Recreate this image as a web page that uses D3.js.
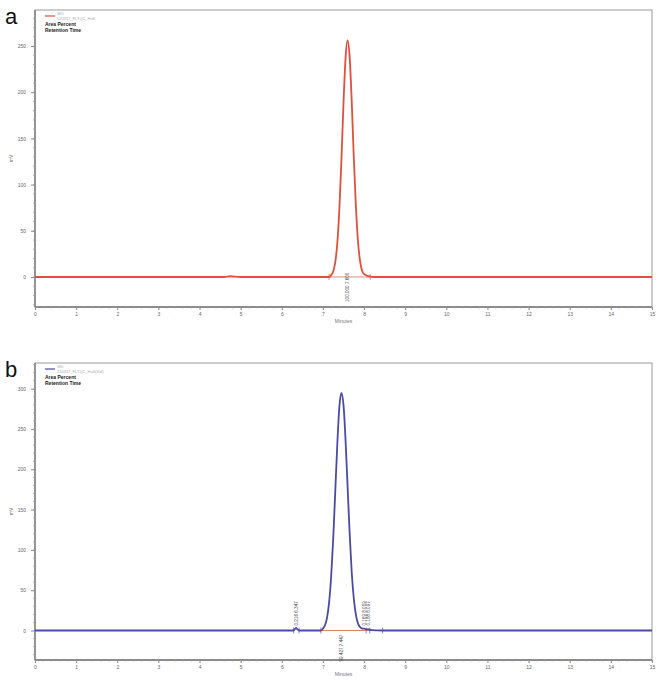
<!DOCTYPE html>
<html><head><meta charset="utf-8">
<script src="https://cdn.jsdelivr.net/npm/d3@7"></script>
<style>body{margin:0;background:#fff}svg{display:block}</style>
</head><body>
<svg id="c" width="663" height="683"></svg>
<script>
// ---- data ----
const xTicks = [0,1,2,3,4,5,6,7,8,9,10,11,12,13,14,15];
const yTicksA = [0,50,100,150,200,250];
const yTicksB = [0,50,100,150,200,250,300];
// panel a trace (minutes, mV)
const traceA = [[0,0],[4.6,0],[4.75,0.8],[4.85,0.3],[5.0,0],[7.15,0],[7.2,2],[7.25,6],[7.3,16],[7.35,37],[7.4,74],[7.45,127],[7.5,188],[7.55,237],[7.6,256],[7.65,238],[7.7,190],[7.75,130],[7.8,78],[7.85,40],[7.9,18],[7.95,7],[8.0,3],[8.1,1],[8.25,0],[15,0]];
// panel b trace
const traceB = [[0,0],[6.28,0],[6.32,2],[6.347,3.2],[6.37,2],[6.42,0],[6.95,0],[7.0,2.4],[7.05,6.5],[7.1,16],[7.15,35],[7.2,67],[7.25,114],[7.3,173],[7.35,232],[7.4,278],[7.447,295],[7.5,280],[7.55,236],[7.6,178],[7.65,120],[7.7,72],[7.75,40],[7.8,20],[7.85,9],[7.9,4.5],[7.95,2.5],[8.009,2.2],[8.05,1.4],[8.097,1.6],[8.15,0.7],[8.3,0.2],[8.45,0],[15,0]];
const peaksA = [{t:7.6, label:"100.000  7.600", off:25}];
const peaksB = [{t:6.347, label:"0.216  6.347", off:-5},{t:7.447, label:"99.427  7.447", off:31},{t:8.009, label:"0.169  8.009", off:-5},{t:8.097, label:"0.188  8.097", off:-5}];
const baselineA = [[7.15,0],[8.15,0]];
const baselineB = [[6.95,0],[8.45,0]];
const markersA = [7.15, 8.15];
const markersB = [6.29, 6.42, 6.95, 8.05, 8.14, 8.45];

const svg = d3.select("#c");
const font = "Liberation Sans, Arial, sans-serif";

function panel(o){
  const g = svg.append("g");
  const x = d3.scaleLinear().domain([0,15]).range([o.left,o.right]);
  const y = d3.scaleLinear().domain(o.ydom).range([o.bottom,o.top]);
  g.append("text").attr("x",5).attr("y",o.top+14).attr("font-family",font).attr("font-size",22).attr("fill","#111").text(o.letter);
  g.append("rect").attr("x",o.left).attr("y",o.top).attr("width",o.right-o.left).attr("height",o.bottom-o.top)
   .attr("fill","none").attr("stroke","#999").attr("stroke-width",1);
  g.append("line").attr("x1",o.left).attr("x2",o.left).attr("y1",o.top).attr("y2",o.bottom).attr("stroke","#777").attr("stroke-width",1.3);
  g.append("line").attr("x1",o.left).attr("x2",o.right).attr("y1",o.bottom).attr("y2",o.bottom).attr("stroke","#777").attr("stroke-width",1.3);
  const ya = d3.axisLeft(y).tickValues(o.yticks).tickSize(4).tickFormat(d3.format("d"));
  const yg = g.append("g").attr("transform",`translate(${o.left},0)`).call(ya);
  yg.select(".domain").remove();
  yg.selectAll("line").attr("stroke","#888");
  yg.selectAll("text").attr("font-size",5).attr("fill","#666").attr("font-family",font).attr("dx",-2);
  const yminor = d3.range(Math.ceil(o.ydom[0]/10)*10, o.ydom[1], 10);
  g.selectAll(".ym").data(yminor).enter().append("line").attr("x1",o.left-2).attr("x2",o.left)
   .attr("y1",d=>y(d)).attr("y2",d=>y(d)).attr("stroke","#999").attr("stroke-width",0.7);
  const xa = d3.axisBottom(x).tickValues(xTicks).tickSize(3).tickFormat(d3.format("d"));
  const xg = g.append("g").attr("transform",`translate(0,${o.bottom})`).call(xa);
  xg.select(".domain").remove();
  xg.selectAll("line").attr("stroke","#888");
  xg.selectAll("text").attr("font-size",5).attr("fill","#666").attr("font-family",font).attr("dy",3);
  const xminor = d3.range(0,15.001,0.2);
  g.selectAll(".xm").data(xminor).enter().append("line").attr("y1",o.bottom).attr("y2",o.bottom+1.8)
   .attr("x1",d=>x(d)).attr("x2",d=>x(d)).attr("stroke","#aaa").attr("stroke-width",0.6);
  g.append("text").attr("x",(o.left+o.right)/2).attr("y",o.bottom+16).attr("text-anchor","middle")
   .attr("font-size",5).attr("fill","#777").attr("font-family",font).text("Minutes");
  g.append("text").attr("transform",`translate(13,${(o.top+o.bottom)/2}) rotate(-90)`).attr("text-anchor","middle")
   .attr("font-size",5).attr("fill","#777").attr("font-family",font).text("mV");
  const line = d3.line().x(d=>x(d[0])).y(d=>y(d[1]));
  g.append("path").attr("d",line(o.baseline)).attr("stroke",o.baseColor).attr("stroke-width",0.8).attr("fill","none");
  g.append("path").datum(o.trace).attr("d",d3.line().x(d=>x(d[0])).y(d=>y(d[1])).curve(d3.curveMonotoneX))
   .attr("fill","none").attr("stroke",o.color).attr("stroke-width",1.8);
  g.selectAll(".mk").data(o.markers).enter().append("line").attr("x1",d=>x(d)).attr("x2",d=>x(d))
   .attr("y1",y(0)-3).attr("y2",y(0)+3).attr("stroke",o.color).attr("stroke-width",0.7);
  o.peaks.forEach(p=>{
    const px = x(p.t)+1.5;
    const py = y(0)+p.off;
    g.append("text").attr("transform",`translate(${px},${py}) rotate(-90)`)
     .attr("font-size",4.6).attr("fill","#444").attr("font-family",font).text(p.label);
  });
  g.append("line").attr("x1",o.left+10).attr("x2",o.left+20).attr("y1",o.top+6).attr("y2",o.top+6).attr("stroke",o.color).attr("stroke-width",1.2);
  g.append("text").attr("x",o.left+22).attr("y",o.top+5).attr("font-size",4).attr("fill","#aaa").attr("font-family",font).text("WD");
  g.append("text").attr("x",o.left+22).attr("y",o.top+10).attr("font-size",4).attr("fill","#aaa").attr("font-family",font).text(o.file);
  g.append("text").attr("x",o.left+10).attr("y",o.top+16).attr("font-size",5).attr("font-weight","bold").attr("fill","#222").attr("font-family",font).text("Area Percent");
  g.append("text").attr("x",o.left+10).attr("y",o.top+22).attr("font-size",5).attr("font-weight","bold").attr("fill","#222").attr("font-family",font).text("Retention Time");
}

panel({letter:"a", left:35, right:652, top:10, bottom:307, ydom:[-32.5,289], yticks:yTicksA,
  trace:traceA, peaks:peaksA, baseline:baselineA, markers:markersA, color:"#e0503a", baseColor:"#e06a50", file:"120317_FLTQC_Hu6"});
panel({letter:"b", left:35, right:652, top:363, bottom:660, ydom:[-36.6,332], yticks:yTicksB,
  trace:traceB, peaks:peaksB, baseline:baselineB, markers:markersB, color:"#4a4aa8", baseColor:"#e0603a", file:"120317_FLTQC_Hu6(Std)"});
</script>
</body></html>
